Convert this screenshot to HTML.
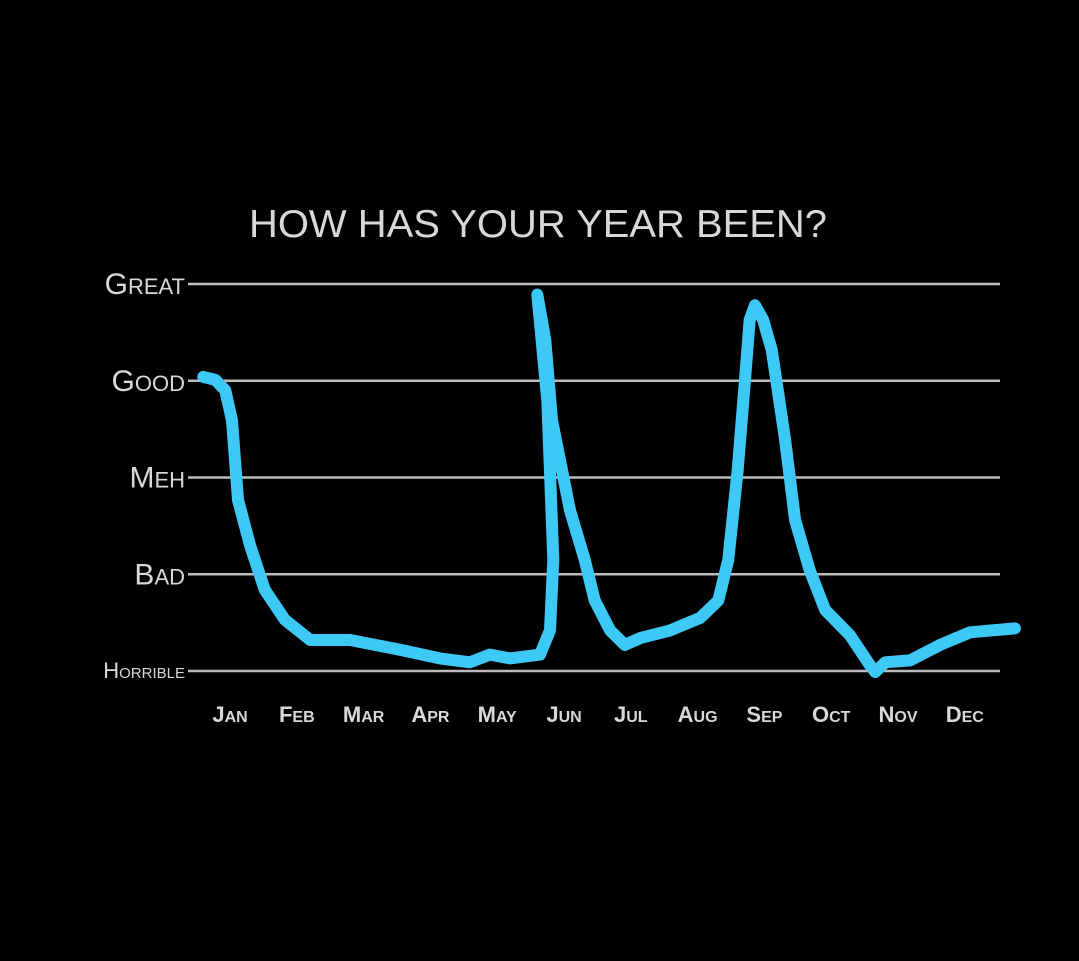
<!DOCTYPE html>
<html><head><meta charset="utf-8"><style>
html,body{margin:0;padding:0;background:#000;}
svg{display:block}
text{font-family:"Liberation Sans",sans-serif;fill:#d8d8d8;}
</style></head><body>
<svg id="chart" width="1079" height="961">
<rect width="1079" height="961" fill="#000"/>
<text x="538" y="237" text-anchor="middle" font-size="39" textLength="578" lengthAdjust="spacingAndGlyphs">HOW HAS YOUR YEAR BEEN?</text>
<g id="grid"></g><g id="ylabels"></g><g id="xlabels"></g>
<path id="line" fill="none" stroke="#3dc9f6" stroke-width="12" stroke-linecap="round" stroke-linejoin="round"/>
</svg>
<script>
const levels=["Great","Good","Meh","Bad","Horrible"];
const levelValues=[4,3,2,1,0];
const months=["Jan","Feb","Mar","Apr","May","Jun","Jul","Aug","Sep","Oct","Nov","Dec"];
const xs=[-0.40,-0.22,-0.07,0.03,0.12,0.30,0.52,0.82,1.20,1.80,2.54,3.14,3.59,3.89,4.19,4.64,4.79,4.84,4.75,4.60,4.72,4.82,4.94,5.09,5.31,5.46,5.69,5.91,6.14,6.59,7.04,7.31,7.46,7.60,7.71,7.78,7.86,7.98,8.11,8.20,8.31,8.46,8.68,8.91,9.28,9.58,9.66,9.81,10.18,10.63,11.08,11.75];
const ys=[3.04,3.01,2.90,2.59,1.77,1.30,0.84,0.53,0.32,0.32,0.22,0.13,0.09,0.17,0.13,0.17,0.42,1.15,2.80,3.89,3.42,2.59,2.18,1.66,1.15,0.73,0.42,0.27,0.34,0.42,0.55,0.73,1.15,2.08,3.01,3.63,3.78,3.63,3.32,2.90,2.39,1.56,1.04,0.63,0.37,0.06,-0.01,0.09,0.11,0.27,0.40,0.44];
const NS="http://www.w3.org/2000/svg";
const X=m=>230+m*66.8, Y=v=>671-v*96.75;
const grid=document.getElementById('grid'),yl=document.getElementById('ylabels'),xl=document.getElementById('xlabels');
levels.forEach((l,i)=>{
  const y=Y(levelValues[i]);
  const ln=document.createElementNS(NS,'line');
  ln.setAttribute('x1',188);ln.setAttribute('x2',1000);ln.setAttribute('y1',y);ln.setAttribute('y2',y);
  ln.setAttribute('stroke','#bbb');ln.setAttribute('stroke-width',2.5);
  
  
  grid.appendChild(ln);
  const t=document.createElementNS(NS,'text');
  const big=l==="Horrible"?22:30, small=l==="Horrible"?15:22;
  t.setAttribute('x',185);t.setAttribute('y',y+(l==="Horrible"?7:10));t.setAttribute('text-anchor','end');
  t.innerHTML='<tspan font-size="'+big+'">'+l[0]+'</tspan><tspan font-size="'+small+'">'+l.slice(1).toUpperCase()+'</tspan>';
  
  
  yl.appendChild(t);
});
months.forEach((m,i)=>{
  const t=document.createElementNS(NS,'text');
  t.setAttribute('x',X(i));t.setAttribute('y',722);t.setAttribute('text-anchor','middle');
  t.setAttribute('font-weight','bold');
  t.innerHTML='<tspan font-size="22">'+m[0]+'</tspan><tspan font-size="16">'+m.slice(1).toUpperCase()+'</tspan>';
  
  
  xl.appendChild(t);
});
let d=xs.map((x,i)=>(i?'L':'M')+X(x).toFixed(1)+','+Y(ys[i]).toFixed(1)).join(' ');
document.getElementById('line').setAttribute('d',d);
</script>
</body></html>
